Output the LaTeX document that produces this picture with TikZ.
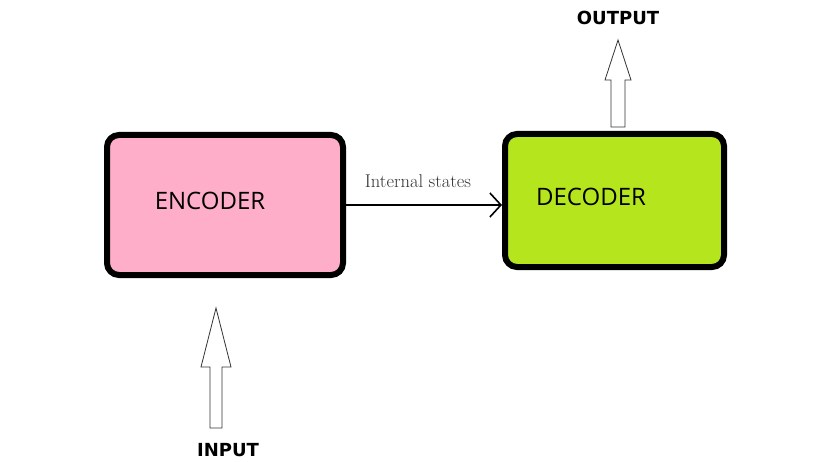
\documentclass[tikz,border=0pt]{standalone}
\usepackage{fontspec}
\usepackage{tikz}
\usetikzlibrary{arrows.meta, positioning, calc}
\newfontfamily\boxfont{Open Sans}
\newfontfamily\tagfont{DejaVu Sans}
\definecolor{encpink}{HTML}{FFAEC9}
\definecolor{declime}{HTML}{B5E61D}
\tikzset{
  box/.style={draw, line width=6pt, rounded corners=12pt, inner sep=0pt},
  boxtext/.style={font=\boxfont\fontsize{24}{28}\selectfont},
  tagtext/.style={font=\tagfont\bfseries\fontsize{18}{20}\selectfont},
  hollow/.style={draw=black!80, line width=0.8pt, fill=white, line join=miter},
}

\begin{document}
\begin{tikzpicture}[x=1pt, y=-1pt]
    \useasboundingbox (0,0) rectangle (826,462);

    \node[box, fill=encpink, minimum width=236, minimum height=140] (enc) at (225,205) {};
    \node[box, fill=declime, minimum width=219, minimum height=133] (dec) at (614.5,200.5) {};
    \node[boxtext] (enctxt) at (210,201) {ENCODER};
    \node[boxtext] (dectxt) at (591,197) {DECODER};

    % internal states between the two boxes
    \draw[line width=1.6pt, -{Straight Barb[length=11pt, width=24pt, line width=1.6pt]}]
        (enc.east) -- (enc.east -| dec.west);
    \node[text=black!80, font=\fontsize{18.5}{20}\selectfont] (lbl) at (418,181) {Internal states};

    % input and output
    \node[tagtext] (inp) at (228,450) {INPUT};
    \node[tagtext] (outp) at (618,18) {OUTPUT};
    \coordinate (ibase) at (216,428);
    \coordinate (obase) at (618,127);
    \draw[hollow] (ibase) ++(-6,0) -- ++(0,-61) -- ++(-9,0) -- ++(15,-59)
        -- ++(15,59) -- ++(-9,0) -- ++(0,61) -- cycle;
    \draw[hollow] (obase) ++(-7,0) -- ++(0,-47) -- ++(-6,0) -- ++(13,-40)
        -- ++(13,40) -- ++(-6,0) -- ++(0,47) -- cycle;
\end{tikzpicture}
\end{document}
